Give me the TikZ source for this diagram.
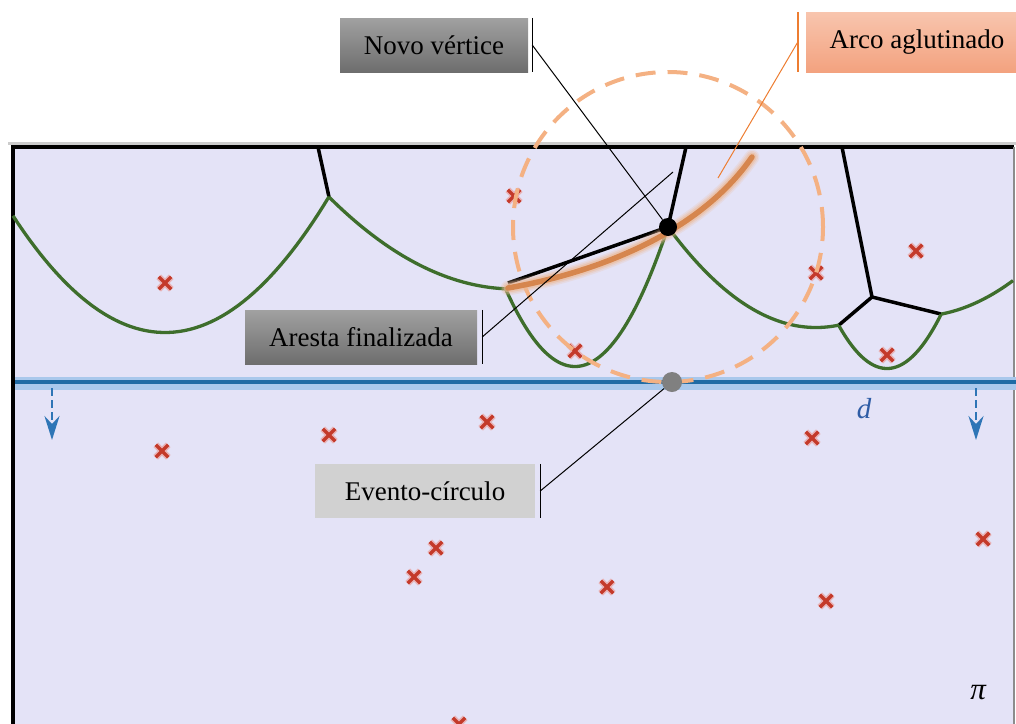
\documentclass[tikz,border=0pt]{standalone}
\usepackage{fontspec}
\setmainfont{Liberation Serif}
\usepackage{tikz}
\usetikzlibrary{arrows.meta,shapes.misc}

\definecolor{planefill}{HTML}{E4E3F7}
\definecolor{sweepblue}{HTML}{1F6BA5}
\definecolor{sweephalo}{HTML}{A9C8EC}
\definecolor{arrowblue}{HTML}{2E75B6}
\definecolor{dblue}{HTML}{2F5DA6}
\definecolor{beachgreen}{HTML}{3E6E2C}
\definecolor{sitered}{HTML}{C43A2A}
\definecolor{sitehalo}{HTML}{E8B4B8}
\definecolor{circleorange}{HTML}{F4B183}
\definecolor{gluedcore}{HTML}{D6864E}
\definecolor{gluedhalo}{HTML}{EDB995}
\definecolor{calloutorange}{HTML}{ED7D31}
\definecolor{arctop}{HTML}{F8C5AE}
\definecolor{arcbottom}{HTML}{F3A27F}

\begin{document}
\begin{tikzpicture}[x=1pt,y=-1pt,
    beach/.style={draw=beachgreen, line width=3.3pt},
    vedge/.style={draw=black, line width=3.5pt},
    site/.style={cross out, draw=sitered, line width=3.5pt, minimum size=9pt,
      inner sep=0pt, preaction={draw=sitehalo, line width=6.5pt}},
    label/.style={minimum height=54pt, inner sep=0pt,
      font=\fontsize{27}{31}\selectfont},
    darkbox/.style={label, top color=black!37, bottom color=black!57},
    bar/.style={draw=black, line width=1.4pt},
    callout/.style={draw=black, line width=1pt},
    sweeparrow/.style={arrowblue, line width=2.5pt, dash pattern=on 8pt off 4pt,
      -{Stealth[length=24pt, width=15pt, inset=8pt]}}
  ]
        \useasboundingbox (0,0) rectangle (1016,723);
        \clip (0,0) rectangle (1016,723);
        \def\dline{382}

        % Plane
        \fill[planefill] (13,147) rectangle (1014,740);
        \draw[black!20, line width=3pt] (8,143) -- (1016,143);
        \draw[black, line width=4pt] (11,147) -- (1014,147);
        \draw[black, line width=4pt] (13,145) -- (13,730);
        \draw[black!45, line width=2.5pt] (1014,147) -- (1014,730);
        \node[font=\fontsize{31}{34}\selectfont\itshape] at (978,693) {π};

        % Sweep line
        \draw[sweephalo, line width=13pt] (15,383) -- (1016,383);
        \draw[sweepblue, line width=4pt] (15,382) -- (1016,382);
        \node[text=dblue, font=\fontsize{29}{34}\selectfont\itshape] at (864,409) {d};
        \draw[sweeparrow] (52,388) -- (52,440);
        \draw[sweeparrow] (976,388) -- (976,440);

        % Voronoi edges
        \draw[vedge] (318,147) -- (329,197);
        \draw[vedge] (686,147) -- (668,227);
        \draw[vedge] (668,227) -- (508,283);
        \draw[vedge] (842,147) -- (872,297);
        \draw[vedge] (872,297) -- (839,325);
        \draw[vedge] (872,297) -- (941,314);

        % Beach line
        \foreach \fx/\fy/\a/\b in {165/283/13/329, 514/196/329/506,
            575/351/506/668, 816/273/668/839, 887/355/839/941,
            916/251/941/1013}
          \draw[beach] plot[domain=\a:\b, samples=60]
            (\x, {(\dline+\fy)/2-(\x-\fx)*((\x-\fx)/(2*(\dline-\fy)))});

        % Sites
        \foreach \p in {(165,283), (514,196), (575,351), (816,273),
            (916,251), (887,355), (162,451), (329,435), (487,422),
            (812,438), (436,548), (414,577), (607,587), (826,601),
            (983,539), (459,724)}
          \node[site] at \p {};

        % Circle of the event
        \draw[circleorange, line width=4pt, dash pattern=on 20pt off 12pt]
          (668,227) circle[radius=155pt];

        % Glued arc
        \foreach \w/\o in {15/0.2, 12/0.3, 9/0.55}
          \draw[gluedhalo, line width=\w pt, opacity=\o, line cap=round]
            (508,288) .. controls (600,272) and (700,232) .. (752,157);
        \draw[gluedcore, line width=5.5pt, line cap=round]
          (508,288) .. controls (600,272) and (700,232) .. (752,157);

        % Vertex and event
        \node[circle, fill=black, minimum size=18pt, inner sep=0pt] (vert) at (668,227) {};
        \node[circle, fill=black!50, minimum size=20pt, inner sep=0pt] (event) at (672,382) {};
        \coordinate (arcpt) at (718,178);
        \coordinate (edgept) at (673,172);

        % Labels
        \node[darkbox, minimum width=188pt] (lblvert) at (434,45) {Novo vértice};
        \draw[bar] ([xshift=4pt]lblvert.north east) -- ([xshift=4pt]lblvert.south east);
        \draw[callout] ([xshift=4pt]lblvert.east) -- (vert);

        \node[label, minimum width=222pt, minimum height=60pt,
          top color=arctop, bottom color=arcbottom] (lblarc) at (917,42) {Arco aglutinado};
        \draw[bar, calloutorange] ([xshift=-8pt]lblarc.north west) -- ([xshift=-8pt]lblarc.south west);
        \draw[callout, calloutorange] ([xshift=-8pt]lblarc.west) -- (arcpt);

        \node[darkbox, minimum width=232pt] (lbledge) at (361,337) {Aresta finalizada};
        \draw[bar] ([xshift=5pt]lbledge.north east) -- ([xshift=5pt]lbledge.south east);
        \draw[callout] ([xshift=5pt]lbledge.east) -- (edgept);

        \node[label, minimum width=220pt, fill=black!18] (lblevent) at (425,491) {Evento-círculo};
        \draw[bar] ([xshift=5pt]lblevent.north east) -- ([xshift=5pt]lblevent.south east);
        \draw[callout] ([xshift=5pt]lblevent.east) -- (event);
    \end{tikzpicture}
\end{document}
